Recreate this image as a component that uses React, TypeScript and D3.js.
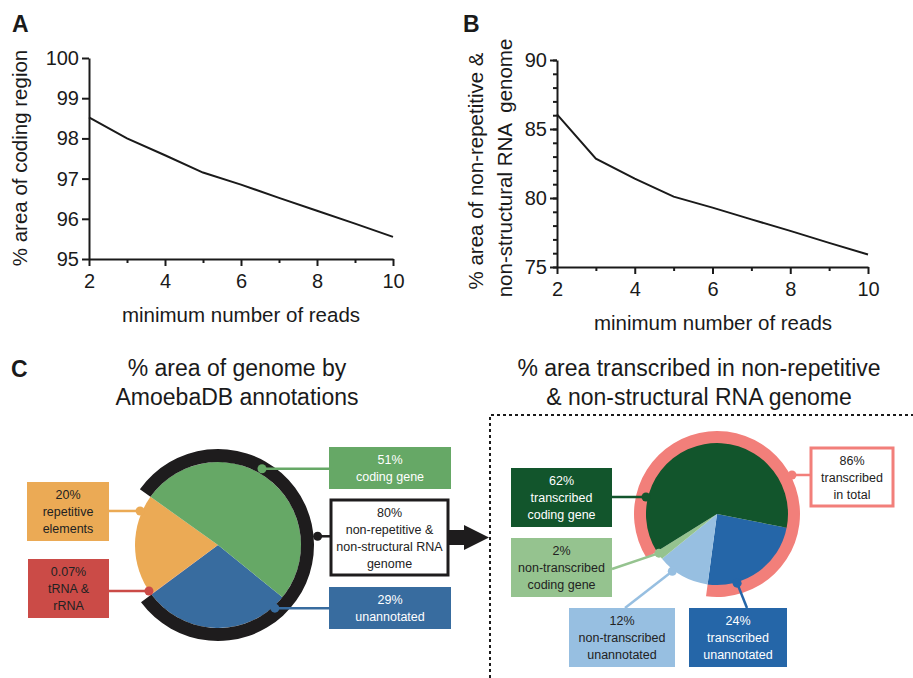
import { useEffect, useRef } from 'react';
import * as d3 from 'd3';

const W = 913;
const H = 678;
const FONT = '"Liberation Sans", Arial, Helvetica, sans-serif';

// Panel A: % area of coding region vs minimum number of reads
const readsA = [2, 3, 4, 5, 6, 7, 8, 9, 10];
const codingPct = [98.52, 98.0, 97.58, 97.15, 96.85, 96.52, 96.2, 95.88, 95.55];
const yTicksA = [95, 96, 97, 98, 99, 100];

// Panel B: % area of non-repetitive & non-structural RNA genome
const readsB = [2, 3, 4, 5, 6, 7, 8, 9, 10];
const nonRepPct = [86.06, 82.85, 81.4, 80.1, 79.3, 78.45, 77.62, 76.75, 75.9];
const yTicksB = [75, 80, 85, 90];

const xTicks = [2, 4, 6, 8, 10];
const xMinor = [3, 5, 7, 9];

// Panel C left: genome by AmoebaDB annotations (clockwise order)
const genomeKeys = ['unannotated', 'trna', 'repetitive', 'coding'];
const genomePct = [29, 0.07, 20, 51];
const genomeText = [['unannotated'], ['tRNA &', 'rRNA'], ['repetitive', 'elements'], ['coding gene']];
const nonRepTotal = 80;
const nonRepText = ['non-repetitive &', 'non-structural RNA', 'genome'];

// Panel C right: transcribed area (clockwise order)
const transKeys = ['tUnann', 'ntUnann', 'ntCoding', 'tCoding'];
const transPct = [24, 12, 2, 62];
const transText = [
    ['transcribed', 'unannotated'],
    ['non-transcribed', 'unannotated'],
    ['non-transcribed', 'coding gene'],
    ['transcribed', 'coding gene']
];
const transTotal = 86;
const transTotalText = ['transcribed', 'in total'];

const colors: Record<string, string> = {
    coding: '#66a866',
    unannotated: '#386c9f',
    repetitive: '#ebaa55',
    trna: '#cb4b47',
    tCoding: '#12552c',
    tUnann: '#2566a8',
    ntUnann: '#97bfe1',
    ntCoding: '#95c38f',
    ring: '#f27f7a'
};

type Box = { x: number; y: number; w: number; h: number; anchor: [number, number]; angle: number; r: number; dark: boolean };

// label box layout, dot angle (deg, clockwise from top) and radius
const leftBoxes: Record<string, Box> = {
    coding: { x: 329, y: 447, w: 122, h: 42, anchor: [329, 469], angle: 30, r: 88, dark: false },
    unannotated: { x: 329, y: 587, w: 122, h: 42, anchor: [329, 608], angle: 138, r: 85, dark: false },
    repetitive: { x: 27, y: 482, w: 82, h: 59, anchor: [109, 511], angle: 293.6, r: 85, dark: true },
    trna: { x: 28, y: 559, w: 81, h: 59, anchor: [109, 591], angle: 236.3, r: 83, dark: true }
};
const rightBoxes: Record<string, Box> = {
    tCoding: { x: 511, y: 468, w: 101, h: 59, anchor: [612, 497], angle: 283.5, r: 73, dark: false },
    ntCoding: { x: 511, y: 538, w: 101, h: 59, anchor: [612, 569], angle: 236, r: 70, dark: true },
    ntUnann: { x: 569, y: 608, w: 106, h: 59, anchor: [625, 608], angle: 218, r: 72.6, dark: true },
    tUnann: { x: 689, y: 608, w: 98, h: 59, anchor: [747, 608], angle: 163.8, r: 72, dark: false }
};

const rad = (deg: number) => (deg * Math.PI) / 180;
const polar = (cx: number, cy: number, deg: number, r: number): [number, number] => [
    cx + r * Math.sin(rad(deg)),
    cy - r * Math.cos(rad(deg))
];

export default function App() {
    const ref = useRef<SVGSVGElement>(null);

    useEffect(() => {
        const svg = d3.select(ref.current);
        svg.selectAll('*').remove();
        svg.attr('font-family', FONT);

        // ---------- line panels ----------
        const drawLine = (
            xs: number[],
            ys: number[],
            xRange: [number, number],
            yDomain: [number, number],
            yRange: [number, number],
            yTicks: number[],
            yMinor: number[]
        ) => {
            const x = d3.scaleLinear().domain([2, 10]).range(xRange);
            const y = d3.scaleLinear().domain(yDomain).range(yRange);
            const g = svg.append('g');

            const styleAxis = (sel: d3.Selection<SVGGElement, unknown, null, undefined>) => {
                sel.selectAll('path, line').attr('stroke', '#1a1a1a').attr('stroke-width', 2);
                sel.selectAll('text').attr('font-size', 20).attr('fill', '#1a1a1a').attr('font-family', FONT);
            };

            g.append('g')
                .attr('transform', `translate(0,${yRange[0]})`)
                .call(d3.axisBottom(x).tickValues(xMinor).tickSize(4).tickSizeOuter(0).tickFormat(() => ''))
                .call(styleAxis)
                .call((s) => s.select('.domain').remove());
            g.append('g')
                .attr('transform', `translate(${xRange[0]},0)`)
                .call(d3.axisLeft(y).tickValues(yMinor).tickSize(4).tickSizeOuter(0).tickFormat(() => ''))
                .call(styleAxis)
                .call((s) => s.select('.domain').remove());
            g.append('g')
                .attr('transform', `translate(0,${yRange[0]})`)
                .call(d3.axisBottom(x).tickValues(xTicks).tickSize(7).tickPadding(8).tickSizeOuter(0).tickFormat(d3.format('d')))
                .call(styleAxis);
            g.append('g')
                .attr('transform', `translate(${xRange[0]},0)`)
                .call(d3.axisLeft(y).tickValues(yTicks).tickSize(7).tickPadding(3).tickSizeOuter(0).tickFormat(d3.format('d')))
                .call(styleAxis);

            const pts = xs.map((v, i) => [v, ys[i]] as [number, number]);
            g.append('path')
                .datum(pts)
                .attr('fill', 'none')
                .attr('stroke', '#1a1a1a')
                .attr('stroke-width', 2)
                .attr(
                    'd',
                    d3
                        .line<[number, number]>()
                        .x((d) => x(d[0]))
                        .y((d) => y(d[1]))
                );
            return { x, y };
        };

        drawLine(readsA, codingPct, [89, 393], [95, 100], [259, 58], yTicksA, []);
        drawLine(readsB, nonRepPct, [557, 868], [75, 90], [267, 60], yTicksB, d3.range(75, 91));

        const text = (x: number, y: number, s: string, size: number, opts: Record<string, string | number> = {}) => {
            const t = svg
                .append('text')
                .attr('x', x)
                .attr('y', y)
                .attr('font-size', size)
                .attr('fill', '#1a1a1a')
                .style('white-space', 'pre')
                .text(s);
            Object.entries(opts).forEach(([k, v]) => t.attr(k, v));
            return t;
        };

        // panel letters
        text(12, 32, 'A', 23, { 'font-weight': 'bold' });
        text(463, 32, 'B', 23, { 'font-weight': 'bold' });
        text(11, 377, 'C', 23, { 'font-weight': 'bold' });

        // axis titles
        text(241, 322, 'minimum number of reads', 20.5, { 'text-anchor': 'middle' });
        text(713, 330, 'minimum number of reads', 20.5, { 'text-anchor': 'middle' });
        text(0, 0, '% area of coding region', 20.5, {
            'text-anchor': 'middle',
            transform: 'translate(27,158) rotate(-90)'
        });
        text(0, 0, '% area of non-repetitive &', 20.5, {
            'text-anchor': 'middle',
            transform: 'translate(483,171) rotate(-90)'
        });
        text(0, 0, 'non-structural RNA  genome', 20.5, {
            'text-anchor': 'middle',
            transform: 'translate(512,168) rotate(-90)'
        });

        // C titles
        text(237, 376, '% area of genome by', 23, { 'text-anchor': 'middle' });
        text(237, 405, 'AmoebaDB annotations', 23, { 'text-anchor': 'middle' });
        text(699, 376, '% area transcribed in non-repetitive', 23, { 'text-anchor': 'middle' });
        text(699, 405, '& non-structural RNA genome', 23, { 'text-anchor': 'middle' });

        // dotted frame
        svg.append('path')
            .attr('d', `M490,${H}V415H${W}`)
            .attr('fill', 'none')
            .attr('stroke', '#1a1a1a')
            .attr('stroke-width', 2)
            .attr('stroke-dasharray', '3,3');

        const drawBox = (b: { x: number; y: number; w: number; h: number }, fill: string, stroke: string, sw: number, lines: string[], tc: string) => {
            svg.append('rect')
                .attr('x', b.x)
                .attr('y', b.y)
                .attr('width', b.w)
                .attr('height', b.h)
                .attr('fill', fill)
                .attr('stroke', stroke)
                .attr('stroke-width', sw);
            const cy = b.y + b.h / 2;
            const lh = 17;
            lines.forEach((l, i) => {
                text(b.x + b.w / 2, cy + (i - (lines.length - 1) / 2) * lh + 4.5, l, 12.5, {
                    'text-anchor': 'middle',
                    fill: tc
                });
            });
        };

        const connector = (p0: [number, number], p1: [number, number], color: string) => {
            svg.append('line')
                .attr('x1', p0[0])
                .attr('y1', p0[1])
                .attr('x2', p1[0])
                .attr('y2', p1[1])
                .attr('stroke', color)
                .attr('stroke-width', 2.5);
            svg.append('circle').attr('cx', p0[0]).attr('cy', p0[1]).attr('r', 4.5).attr('fill', color);
        };

        // ---------- left pie ----------
        const lc: [number, number] = [218, 545];
        const pieL = d3
            .pie<number>()
            .sort(null)
            .startAngle(rad(129))
            .endAngle(rad(129) + 2 * Math.PI)(genomePct);
        const arcL = d3.arc<d3.PieArcDatum<number>>().innerRadius(0).outerRadius(83);
        const gL = svg.append('g').attr('transform', `translate(${lc[0]},${lc[1]})`);
        gL.selectAll('path.slice')
            .data(pieL)
            .join('path')
            .attr('class', 'slice')
            .attr('d', arcL)
            .attr('fill', (_d, i) => colors[genomeKeys[i]]);
        const codingIdx = genomeKeys.indexOf('coding');
        const unIdx = genomeKeys.indexOf('unannotated');
        gL.append('path')
            .attr(
                'd',
                d3.arc()({
                    innerRadius: 83,
                    outerRadius: 96,
                    startAngle: pieL[codingIdx].startAngle,
                    endAngle: pieL[unIdx].endAngle + 2 * Math.PI
                }) as string
            )
            .attr('fill', '#1e1c1d');

        genomeKeys.forEach((k, i) => {
            const b = leftBoxes[k];
            const dot = polar(lc[0], lc[1], b.angle, b.r);
            connector(dot, [b.anchor[0], dot[1]], colors[k]);
            drawBox(b, colors[k], 'none', 0, [`${genomePct[i]}%`, ...genomeText[i]], b.dark ? '#222' : '#fff');
        });

        // 80% box + arrow
        const nb = { x: 331, y: 500, w: 117, h: 75 };
        const ndot = polar(lc[0], lc[1], 85, 100);
        connector(ndot, [nb.x, ndot[1]], '#1e1c1d');
        drawBox(nb, '#fff', '#1e1c1d', 3, [`${nonRepTotal}%`, ...nonRepText], '#222');
        svg.append('path')
            .attr('d', 'M449,530H464V525L489,537.5L464,550V545H449Z')
            .attr('fill', '#1e1c1d');

        // ---------- right pie ----------
        const rc: [number, number] = [717, 514];
        const pieR = d3
            .pie<number>()
            .sort(null)
            .startAngle(rad(101.2))
            .endAngle(rad(101.2) + 2 * Math.PI)(transPct);
        const tcIdx = transKeys.indexOf('tCoding');
        const tuIdx = transKeys.indexOf('tUnann');
        const gR = svg.append('g').attr('transform', `translate(${rc[0]},${rc[1]})`);
        gR.append('path')
            .attr(
                'd',
                d3.arc()({
                    innerRadius: 68,
                    outerRadius: 83,
                    startAngle: pieR[tcIdx].startAngle,
                    endAngle: pieR[tuIdx].endAngle + 2 * Math.PI
                }) as string
            )
            .attr('fill', colors.ring);
        const arcR = d3.arc<d3.PieArcDatum<number>>().innerRadius(0).outerRadius(71);
        gR.selectAll('path.slice')
            .data(pieR)
            .join('path')
            .attr('class', 'slice')
            .attr('d', arcR)
            .attr('fill', (_d, i) => colors[transKeys[i]]);

        transKeys.forEach((k, i) => {
            const b = rightBoxes[k];
            const dot = polar(rc[0], rc[1], b.angle, b.r);
            const end: [number, number] = k === 'tCoding' ? [b.anchor[0], dot[1]] : b.anchor;
            connector(dot, end, colors[k]);
            drawBox(b, colors[k], 'none', 0, [`${transPct[i]}%`, ...transText[i]], b.dark ? '#222' : '#fff');
        });

        // 86% total box
        const tb = { x: 811, y: 448, w: 82, h: 58 };
        const tdot = polar(rc[0], rc[1], 62.5, 84.5);
        connector(tdot, [tb.x, tdot[1]], colors.ring);
        drawBox(tb, '#fff', colors.ring, 3, [`${transTotal}%`, ...transTotalText], '#222');
    }, []);

    return (
        <div style={{ position: 'absolute', left: 0, top: 0, background: '#fff' }}>
            <svg ref={ref} width={W} height={H} />
        </div>
    );
}
